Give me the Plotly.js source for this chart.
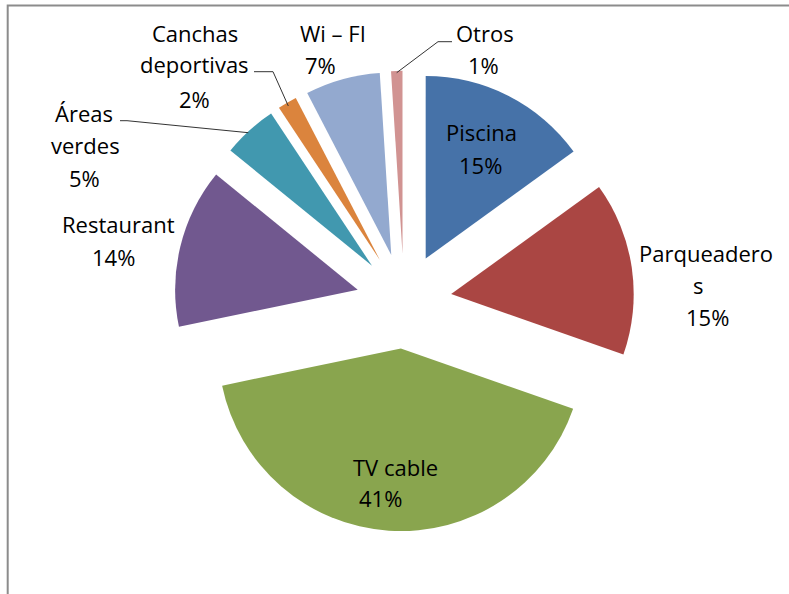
<!DOCTYPE html>
<html>
<head>
<meta charset="utf-8">
<script src="https://cdn.plot.ly/plotly-3.0.1.min.js"></script>
<style>html,body{margin:0;padding:0;background:#fff;}#chart{width:789px;height:594px;}</style>
</head>
<body>
<div id="chart"></div>
<script>
// ---- data ----
const categories = ["Piscina", "Parqueaderos", "TV cable", "Restaurant", "Áreas verdes", "Canchas deportivas", "Wi – FI", "Otros"];
const values = [15.0, 15.3, 41.3, 14.1, 4.8, 1.7, 6.6, 1.0];
const displayLines = [["Piscina"], ["Parqueadero", "s"], ["TV cable"], ["Restaurant"], ["Áreas", "verdes"], ["Canchas", "deportivas"], ["Wi – FI"], ["Otros"]];
const colors = ["#4672A8", "#AA4643", "#89A54E", "#71588F", "#4198AF", "#DB843D", "#93A9CF", "#D19392"];

// ---- layout helpers (pixel -> paper) ----
const W = 789, H = 594;
const px = x => x / W;
const py = y => 1 - y / H;

// label line positions [centerX, baseline] for each line (name lines + percent line)
const labelPos = [
  [[481, 140.7], [480, 173.3]],
  [[706, 262], [698, 293], [707, 325]],
  [[396, 475], [380, 506]],
  [[118.5, 233], [113, 265.7]],
  [[84, 121.7], [85, 153], [84, 186.7]],
  [[194.5, 41.7], [194.7, 72.5], [194.5, 107]],
  [[332.5, 41.7], [320, 73.3]],
  [[484.5, 41.7], [483, 73.3]]
];

const total = values.reduce((a, b) => a + b, 0);
const annotations = [];
categories.forEach((c, i) => {
  const pct = Math.round(values[i] / total * 100) + "%";
  const lines = displayLines[i].concat([pct]);
  lines.forEach((t, j) => {
    const p = labelPos[i][j];
    annotations.push({
      text: t, showarrow: false, xref: "paper", yref: "paper",
      x: px(p[0]), y: py(p[1] - 8.5), xanchor: "center", yanchor: "middle",
      font: {family: "Open Sans, sans-serif", size: 22, color: "#000"}
    });
  });
});

function pathOf(pts) {
  return pts.map((p, k) => (k ? "L" : "M") + px(p[0]) + "," + py(p[1])).join(" ");
}
const leaderStyle = {color: "#333", width: 1};
const shapes = [
  {type: "rect", xref: "paper", yref: "paper", x0: px(7.7), x1: 1.05, y0: -0.05, y1: py(5.5),
   line: {color: "#8c8c8c", width: 2}, fillcolor: "rgba(0,0,0,0)"},
  {type: "path", xref: "paper", yref: "paper", path: pathOf([[452, 41.7], [438, 41.7], [396.7, 72.7]]), line: leaderStyle},
  {type: "path", xref: "paper", yref: "paper", path: pathOf([[254, 71.7], [273, 71.7], [288.3, 106]]), line: leaderStyle},
  {type: "path", xref: "paper", yref: "paper", path: pathOf([[120, 120.7], [127, 120.7], [248.3, 132.7]]), line: leaderStyle}
];

const trace = {
  type: "pie",
  labels: categories,
  values: values,
  sort: false,
  direction: "clockwise",
  rotation: 0,
  pull: categories.map(() => 0.261),
  marker: {colors: colors, line: {width: 0}},
  textinfo: "none",
  hoverinfo: "label+percent",
  showlegend: false,
  domain: {x: [px(173.8), px(634.2)], y: [py(531.2), py(70.8)]}
};

const layout = {
  width: W, height: H,
  margin: {l: 0, r: 0, t: 0, b: 0},
  paper_bgcolor: "#fff",
  showlegend: false,
  annotations: annotations,
  shapes: shapes
};

Plotly.newPlot("chart", [trace], layout, {displayModeBar: false, staticPlot: true});
</script>
</body>
</html>
